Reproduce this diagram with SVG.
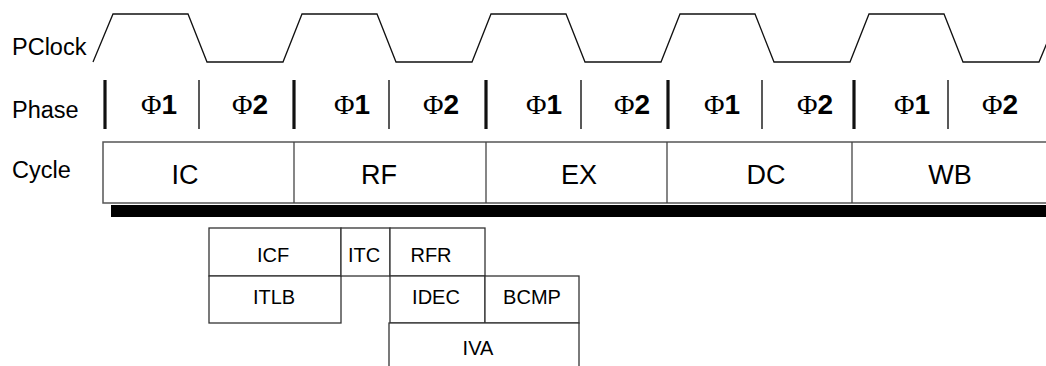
<svg xmlns="http://www.w3.org/2000/svg" width="1046" height="366" viewBox="0 0 1046 366">
<style>
.lbl{font-family:"Liberation Sans",Arial,sans-serif;font-size:23.5px;fill:#000}
.cyc{font-family:"Liberation Sans",Arial,sans-serif;font-size:27px;fill:#000;text-anchor:middle}
.ph{font-family:"Liberation Sans",Arial,sans-serif;font-size:28px;font-weight:bold;fill:#000;text-anchor:middle}
.phi{font-family:"Liberation Serif","Times New Roman",serif;font-weight:normal}
.sm{font-family:"Liberation Sans",Arial,sans-serif;font-size:20px;fill:#000;text-anchor:middle}
.box{fill:#fff;stroke:#333;stroke-width:1.3}
.thick{stroke:#111;stroke-width:3.2}
.thin{stroke:#222;stroke-width:1.5}
</style>
<rect width="1046" height="366" fill="#fff"/>
<g id="labels">
<text class="lbl" x="12" y="55">PClock</text>
<text class="lbl" x="12" y="118">Phase</text>
<text class="lbl" x="12" y="178">Cycle</text>
</g>
<g id="pclock">
<path d="M93,62 L113,14 L188,14 L207,62 L283,62 L302,14 L377,14 L396,62 L472,62 L491,14 L566,14 L585,62 L661,62 L680,14 L755,14 L774,62 L850,62 L869,14 L944,14 L963,62 L1039,62 L1059,14" fill="none" stroke="#111" stroke-width="1.3"/>
</g>
<g id="phase">
<line class="thick" x1="105" y1="80" x2="105" y2="129"/>
<line class="thin" x1="199" y1="80" x2="199" y2="129"/>
<line class="thick" x1="294" y1="80" x2="294" y2="129"/>
<line class="thin" x1="389" y1="80" x2="389" y2="129"/>
<line class="thick" x1="486" y1="80" x2="486" y2="129"/>
<line class="thin" x1="581" y1="80" x2="581" y2="129"/>
<line class="thick" x1="668" y1="80" x2="668" y2="129"/>
<line class="thin" x1="762" y1="80" x2="762" y2="129"/>
<line class="thick" x1="854" y1="80" x2="854" y2="129"/>
<line class="thin" x1="948" y1="80" x2="948" y2="129"/>
<text class="ph" x="159" y="114"><tspan class="phi">Φ</tspan>1</text>
<text class="ph" x="250" y="114"><tspan class="phi">Φ</tspan>2</text>
<text class="ph" x="352" y="114"><tspan class="phi">Φ</tspan>1</text>
<text class="ph" x="441" y="114"><tspan class="phi">Φ</tspan>2</text>
<text class="ph" x="544" y="114"><tspan class="phi">Φ</tspan>1</text>
<text class="ph" x="632" y="114"><tspan class="phi">Φ</tspan>2</text>
<text class="ph" x="722" y="114"><tspan class="phi">Φ</tspan>1</text>
<text class="ph" x="815" y="114"><tspan class="phi">Φ</tspan>2</text>
<text class="ph" x="912" y="114"><tspan class="phi">Φ</tspan>1</text>
<text class="ph" x="1000" y="114"><tspan class="phi">Φ</tspan>2</text>
</g>
<g id="cycle">
<rect x="111" y="205" width="940" height="12" fill="#000"/>
<rect x="103" y="142" width="950" height="61" fill="#fff" stroke="#555" stroke-width="1.5"/>
<line x1="294" y1="142" x2="294" y2="203" stroke="#444" stroke-width="1.3"/>
<line x1="486" y1="142" x2="486" y2="203" stroke="#444" stroke-width="1.3"/>
<line x1="667" y1="142" x2="667" y2="203" stroke="#444" stroke-width="1.3"/>
<line x1="852" y1="142" x2="852" y2="203" stroke="#444" stroke-width="1.3"/>
<text class="cyc" x="185" y="184">IC</text>
<text class="cyc" x="379" y="184">RF</text>
<text class="cyc" x="579" y="184">EX</text>
<text class="cyc" x="766" y="184">DC</text>
<text class="cyc" x="950" y="184">WB</text>
</g>
<g id="icf"><rect class="box" x="209" y="228" width="132" height="48"/><text class="sm" x="273" y="262">ICF</text></g>
<g id="itlb"><rect class="box" x="209" y="276" width="132" height="47"/><text class="sm" x="274" y="304">ITLB</text></g>
<g id="itc"><rect class="box" x="341" y="228" width="49" height="48"/><text class="sm" x="364" y="262">ITC</text></g>
<g id="rfr"><rect class="box" x="390" y="228" width="95" height="48"/><text class="sm" x="431" y="262">RFR</text></g>
<g id="idec"><rect class="box" x="390" y="276" width="95" height="47"/><text class="sm" x="436" y="304">IDEC</text></g>
<g id="bcmp"><rect class="box" x="485" y="276" width="94" height="47"/><text class="sm" x="532" y="304">BCMP</text></g>
<g id="iva"><rect class="box" x="389" y="323" width="190" height="60"/><text class="sm" x="478" y="355">IVA</text></g>
</svg>
